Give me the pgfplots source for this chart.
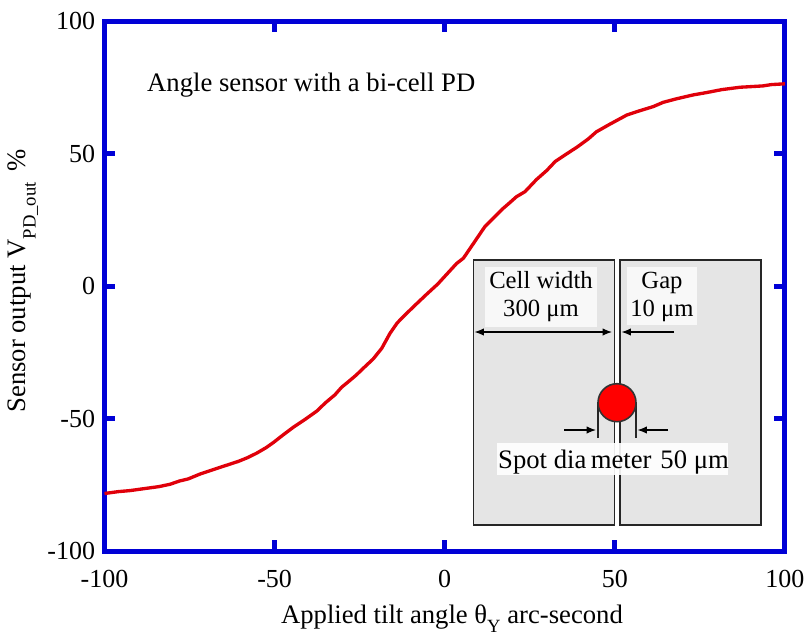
\documentclass[border=0pt]{standalone}
\usepackage{pgfplots}
\pgfplotsset{compat=1.18}
\usepackage{fontspec}
\setmainfont{Liberation Serif}
\usetikzlibrary{arrows.meta}
\definecolor{axblue}{RGB}{0,0,214}
\definecolor{curve}{RGB}{224,0,10}
\begin{document}
\begin{tikzpicture}[x=0.75pt,y=-0.75pt,
  arr/.style={-{Latex[length=7pt,width=5.5pt]},line width=0.9pt,black}]
\path[use as bounding box] (0,0) rectangle (810,640);
\coordinate (o) at (104.5,551);
\begin{axis}[at={(o)},anchor=south west,scale only axis,
  x=2.5515pt,y=1.9875pt,
  xmin=-100,xmax=100,ymin=-100,ymax=100,
  xtick={-100,-50,0,50,100},ytick={-100,-50,0,50,100},
  axis line style={axblue,line width=3.75pt},
  tick style={axblue,line width=3.75pt},
  major tick length=8pt,
  tick align=inside,
  ticklabel style={font=\fontsize{19.5}{22}\selectfont,text=black},
  /pgf/number format/assume math mode=true,
  xticklabel style={yshift=-10.5pt},
  yticklabel style={xshift=-3.5pt},
  clip=false,
]
\addplot[curve,line width=2.5pt,line join=round] coordinates {
(-100,-78.3)(-96,-77.6)(-92.5,-77.2)(-88,-76.4)(-84,-75.7)(-80.7,-74.8)(-78,-73.6)(-75.4,-72.8)(-72,-71)(-69,-69.7)(-65,-68)(-60.7,-66.2)(-58,-64.8)(-55.3,-63.1)(-52.5,-61)(-50.4,-59.1)(-47.5,-56.2)(-44.5,-53.3)(-41,-50.3)(-37.6,-47.2)(-35,-44)(-32.3,-41.1)(-30.3,-38.2)(-28.3,-36.1)(-26,-33.6)(-23.9,-31)(-21,-27.5)(-18.5,-23.5)(-16.1,-17.9)(-14,-14)(-12.2,-11.6)(-9,-7.6)(-5.3,-3.1)(-2,0.8)(2,6.4)(3.5,8.5)(5.5,10.5)(8,15.2)(11.8,22.4)(14,25.2)(17.2,29.3)(19,31.3)(21.1,33.7)(23.6,35.6)(27,40.2)(30,43.6)(32.5,47)(35.3,49.4)(39,52.5)(42.2,55.5)(44.6,58.2)(48.6,61.1)(53.5,64.5)(57,66)(61.3,67.7)(64.2,69.3)(68,70.6)(73,72.1)(77,73)(81.4,74.1)(86.8,75)(93.5,75.5)(96,76)(100,76.3)
};
\end{axis}
% inset
\fill[white] (473,260) rectangle (762,526);
\draw[line width=1.2pt,fill=black!10,draw=black!85] (473.5,260) rectangle (614.5,525);
\draw[line width=1.2pt,fill=black!10,draw=black!85] (620,260) rectangle (761,525);
\fill[white,opacity=0.75] (485,267) rectangle (597,327);
\fill[white,opacity=0.75] (627,267) rectangle (697,325);
\draw[line width=1.2pt,draw=black!85] (597.7,402) -- (597.7,438);
\draw[line width=1.2pt,draw=black!85] (635.7,402) -- (635.7,438);
\fill[white,opacity=0.9] (497,443) rectangle (728,475);
\draw[line width=1.2pt,fill=red,draw=black!80] (617,402.7) circle[radius=19];
\draw[arr,{Latex[length=7pt,width=5.5pt]}-{Latex[length=7pt,width=5.5pt]}] (474.5,332) -- (612,332);
\draw[arr] (674,332) -- (621.5,332);
\draw[arr] (564,430) -- (596,430);
\draw[arr] (668,430) -- (637.5,430);
\node[font=\fontsize{18.5}{21}\selectfont,align=center] at (541,297) {Cell width\\300 μm};
\node[font=\fontsize{18.5}{21}\selectfont,align=center] at (662,297) {Gap\\10 μm};
\node[font=\fontsize{20}{24}\selectfont] at (613.5,462) {Spot dia\,meter\,\,50 μm};
\node[font=\fontsize{20}{24}\selectfont,anchor=west] at (142.5,85) {Angle sensor with a bi-cell PD};
\node[font=\fontsize{20}{24}\selectfont,anchor=base] at (452,623) {Applied tilt angle θ\raisebox{-7pt}{\fontsize{14}{14}\selectfont Y} arc-second};
\node[font=\fontsize{20}{24}\selectfont,rotate=90,anchor=base] at (25,281) {Sensor output V\raisebox{-8pt}{\fontsize{14}{14}\selectfont PD\_out}\hspace{8pt}\%};
\end{tikzpicture}
\end{document}
